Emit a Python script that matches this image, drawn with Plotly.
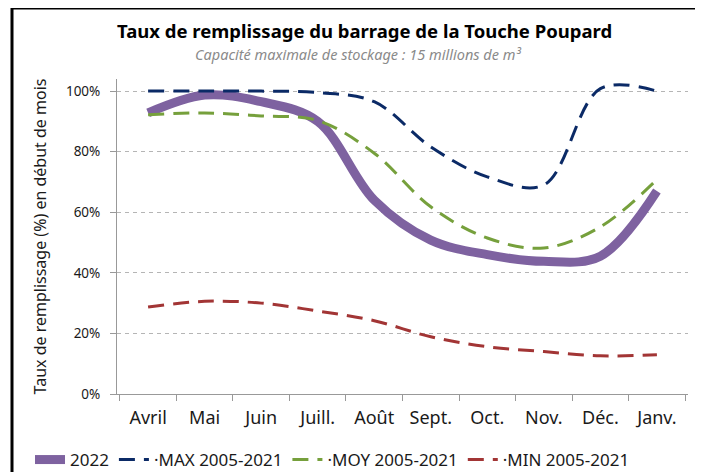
import plotly.graph_objects as go

months = ["Avril", "Mai", "Juin", "Juill.", "Août", "Sept.", "Oct.", "Nov.", "Déc.", "Janv."]
y2022 = [92.8, 98.7, 96.5, 90.0, 64.0, 50.8, 46.0, 43.8, 45.5, 67.0]
ymax = [100.0, 100.0, 100.0, 99.5, 96.5, 81.6, 71.7, 69.0, 100.8, 100.0]
ymoy = [92.2, 92.8, 91.8, 90.3, 79.5, 61.8, 51.5, 48.2, 55.2, 70.8]
ymin = [28.7, 30.6, 30.0, 27.4, 24.2, 18.9, 15.6, 14.0, 12.6, 13.0]
yticks = [0, 20, 40, 60, 80, 100]
yticklabels = ["0%", "20%", "40%", "60%", "80%", "100%"]

FONT = "Noto Sans"
fig = go.Figure()
fig.add_trace(go.Scatter(x=months, y=y2022, name="2022", mode="lines",
                         line=dict(color="#7E62A0", width=9, shape="spline", smoothing=1)))
fig.add_trace(go.Scatter(x=months, y=ymax, name="·MAX 2005-2021", mode="lines",
                         line=dict(color="#0B2A66", width=3, dash="16px,9px", shape="spline", smoothing=1)))
fig.add_trace(go.Scatter(x=months, y=ymoy, name="·MOY 2005-2021", mode="lines",
                         line=dict(color="#76A03C", width=3, dash="16px,9px", shape="spline", smoothing=1)))
fig.add_trace(go.Scatter(x=months, y=ymin, name="·MIN 2005-2021", mode="lines",
                         line=dict(color="#A23535", width=3, dash="16px,9px", shape="spline", smoothing=1)))

# the page body has an 8px margin, so the figure is drawn 8px in from the top-left corner
OFF = 8
W, H = 703 - OFF, 472 - OFF
L, R = 117 - OFF, 703 - 688
T, B = 79 - OFF, 472 - 394
pw = W - L - R
ph = H - T - B

def px_x(x):  # reference screenshot x -> paper fraction
    return (x - OFF - L) / pw

def px_y(y):  # reference screenshot y -> paper fraction
    return (H - B - (y - OFF)) / ph

fig.update_layout(
    width=W, height=H,
    margin=dict(l=L, r=R, t=T, b=B, autoexpand=False),
    paper_bgcolor="white", plot_bgcolor="white",
    font=dict(family=FONT, color="#1a1a1a"),
    showlegend=True,
    legend=dict(orientation="h", x=px_x(30), xanchor="left", y=px_y(460), yanchor="middle",
                font=dict(size=17, color="#1a1a1a"), itemwidth=30, tracegroupgap=0,
                bgcolor="rgba(0,0,0,0)"),
    xaxis=dict(type="category", tickson="boundaries", ticks="outside", ticklen=6,
               tickcolor="#999999", showline=True, linecolor="#999999", linewidth=1,
               showgrid=False, tickfont=dict(size=18, color="#1a1a1a"), range=[-0.55, 9.55],
               ticklabelstandoff=7),
    yaxis=dict(range=[0, 104], tickvals=yticks, ticktext=yticklabels, ticks="outside", ticklen=6,
               tickcolor="#999999", showline=True, linecolor="#999999", linewidth=1,
               showgrid=True, gridcolor="#b5b5b5", griddash="4px,4px", gridwidth=1,
               zeroline=False, tickfont=dict(size=13.5, color="#1a1a1a"), ticklabelstandoff=7,
               title=dict(text="Taux de remplissage (%) en début de mois", standoff=15,
                          font=dict(size=16, color="#1a1a1a"))),
)

fig.add_annotation(text="<b>Taux de remplissage du barrage de la Touche Poupard</b>",
                   xref="paper", yref="paper", x=px_x(364), y=px_y(30), showarrow=False,
                   xanchor="center", yanchor="middle", font=dict(size=18.5, color="#000000", family=FONT))
fig.add_annotation(text="<i>Capacité maximale de stockage : 15 millions de m³</i>",
                   xref="paper", yref="paper", x=px_x(358), y=px_y(53.5), showarrow=False,
                   xanchor="center", yanchor="middle", font=dict(size=14.5, color="#8a8a8a", family=FONT))

# outer frame
fig.add_shape(type="line", xref="paper", yref="paper", x0=px_x(12), x1=px_x(12), y0=px_y(7), y1=px_y(480),
              line=dict(color="black", width=3))
fig.add_shape(type="line", xref="paper", yref="paper", x0=px_x(12), x1=px_x(710), y0=px_y(8), y1=px_y(8),
              line=dict(color="black", width=3))

fig.write_html("out.html")
